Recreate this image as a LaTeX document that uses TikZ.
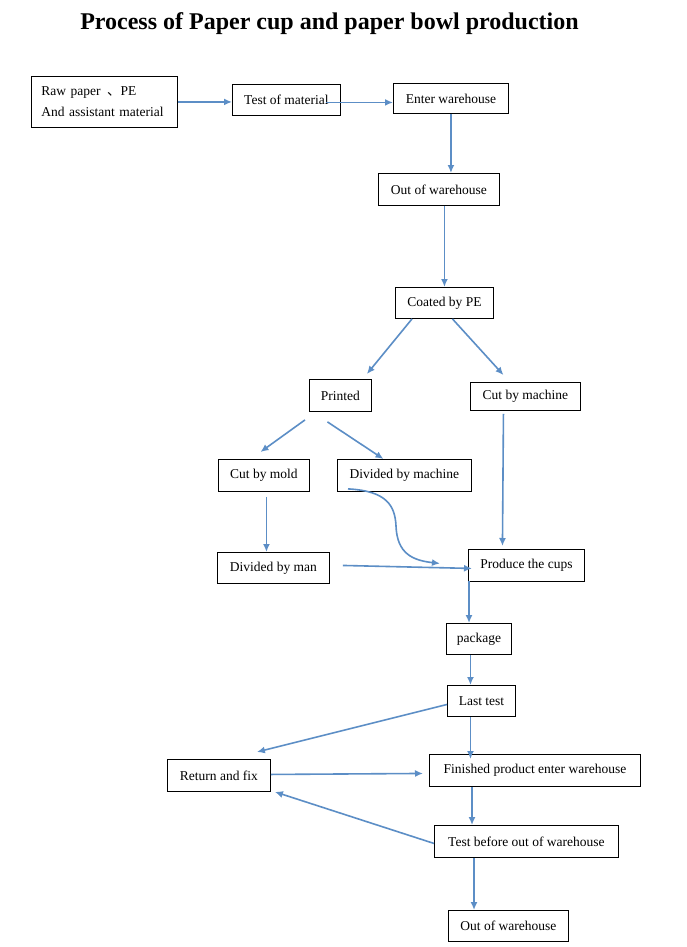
\documentclass[tikz,border=0pt]{standalone}
\usepackage{fontspec}
\setmainfont{Liberation Serif}
\newfontfamily\cjk{Noto Sans CJK SC}
\usetikzlibrary{arrows.meta,calc}
\definecolor{arrowblue}{RGB}{92,142,198}
\tikzset{
  box/.style={draw=black, line width=0.9pt, inner sep=0pt, anchor=north west,
    font=\fontsize{13.5}{21}\selectfont},
  arr/.style={draw=arrowblue, line width=1.6pt, -{Latex[length=8pt,width=7pt]}}
}
\begin{document}
\begin{tikzpicture}[x=1pt,y=-1pt]
\fill[white] (0,0) rectangle (686,947);
\useasboundingbox (0,0) rectangle (686,947);

\node[font=\bfseries\fontsize{24}{28}\selectfont, anchor=base] (title) at (329.5,30) {Process of Paper cup and paper bowl production};

\node[box, minimum width=146pt, minimum height=51pt, text width=126pt, align=left] (raw) at (31,76) {Raw paper \hspace{2pt}{\cjk 、}PE\\And assistant material};
\node[box, minimum width=108pt, minimum height=31pt] (test) at (232,84) {Test of material};
\node[box, minimum width=115pt, minimum height=30pt] (enter) at (393,83) {Enter warehouse};
\node[box, minimum width=121pt, minimum height=32pt] (out1) at (378,173) {Out of warehouse};
\node[box, minimum width=98pt, minimum height=31pt] (coated) at (395,287) {Coated by PE};
\node[box, minimum width=62pt, minimum height=32pt] (printed) at (309,379) {Printed};
\node[box, minimum width=110pt, minimum height=28pt] (cutm) at (470,382) {Cut by machine};
\node[box, minimum width=91pt, minimum height=32pt] (cutmold) at (218,459) {Cut by mold};
\node[box, minimum width=134pt, minimum height=32pt] (divm) at (337,459) {Divided by machine};
\node[box, minimum width=112pt, minimum height=31pt] (divman) at (217,552) {Divided by man};
\node[box, minimum width=116pt, minimum height=32pt] (produce) at (468,549) {Produce the cups};
\node[box, minimum width=65pt, minimum height=31pt] (package) at (446,623) {package};
\node[box, minimum width=68pt, minimum height=31pt] (last) at (447,685) {Last test};
\node[box, minimum width=103pt, minimum height=32pt] (ret) at (167,759) {Return and fix};
\node[box, minimum width=211pt, minimum height=32pt] (fin) at (429,754) {Finished product enter warehouse};
\node[box, minimum width=184pt, minimum height=32pt] (testb) at (434,825) {Test before out of warehouse};
\node[box, minimum width=120pt, minimum height=31pt] (out2) at (448,910) {Out of warehouse};

\draw[arr] (raw.east) -- (test.west |- raw.east);
\draw[arr] ($(test.east)+(-15,2.5)$) coordinate (c2) -- (enter.west |- c2);
\draw[arr] (enter.south) -- (enter.south |- out1.north);
\draw[arr] (coated.north |- out1.south) -- (coated.north);
\draw[arr] ($(coated.south west)+(17,0)$) -- ($(printed.north east)+(-5,-5)$);
\draw[arr] ($(coated.south)+(8,0)$) -- ($(cutm.north)+(-22,-7)$);
\draw[arr] ($(printed.south west)+(-4,8)$) -- ($(cutmold.north)+(-3.5,-7)$);
\draw[arr] ($(printed.south)+(-13,10)$) -- ($(divm.north)+(-21,0)$);
\draw[arr] ($(cutm.south)+(-22,3)$) -- ($(produce.north)+(-24,-3)$);
\draw[arr] ($(cutmold.south)+(2.5,5)$) coordinate (c10) -- (c10 |- divman.north);
\draw[arr] ($(divm.south west)+(11,-3)$) .. controls ($(divm.south west)+(50,-1)$) and ($(divm.south west)+(58,14)$) .. ($(divm.south west)+(59,34)$) .. controls ($(divm.south west)+(60,62)$) and ($(produce.west)+(-55,-5)$) .. ($(produce.west)+(-28,-2)$);
\draw[arr] ($(divman.east)+(13,-2.5)$) -- ($(produce.west)+(4,3)$);
\draw[arr] ($(produce.south west)+(1,-1)$) coordinate (c13) -- (c13 |- package.north);
\draw[arr] ($(package.south)+(-8.5,0)$) coordinate (c14) -- (c14 |- last.north);
\draw[arr] ($(last.west)+(0,3.5)$) -- ($(ret.north east)+(-14,-7)$);
\draw[arr] ($(last.south)+(-11,0)$) coordinate (c16) -- ($(c16 |- fin.north)+(0,5)$);
\draw[arr] ($(ret.east)+(0,-1)$) -- ($(fin.west)+(-6,3)$);
\draw[arr] ($(fin.south west)+(43,0)$) coordinate (c18) -- (c18 |- testb.north);
\draw[arr] ($(testb.west)+(0,2)$) -- ($(ret.south east)+(4,0)$);
\draw[arr] ($(testb.south west)+(40,0)$) coordinate (c20) -- (c20 |- out2.north);
\end{tikzpicture}
\end{document}
